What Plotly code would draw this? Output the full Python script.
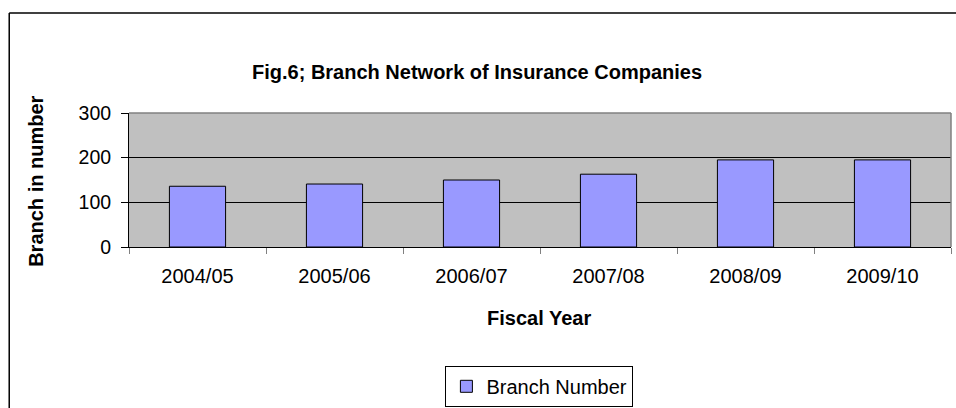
import plotly.graph_objects as go

years = ["2004/05", "2005/06", "2006/07", "2007/08", "2008/09", "2009/10"]
branches = [136, 141, 150, 163, 195, 195]
y_ticks = [0, 100, 200, 300]

W, H = 956, 408
L, R, T, B = 128.5, 5.3, 112.7, 161.3
pw = W - L - R
ph = H - T - B

def px(x):
    return (x - L) / pw

def py(y):
    return (H - B - y) / ph

FONT = "Arial, Liberation Sans, sans-serif"

fig = go.Figure()
fig.add_trace(go.Bar(
    x=years, y=branches, name="Branch Number",
    marker=dict(color="#9999FF", line=dict(color="#000000", width=1)),
    width=0.41,
))

fig.update_layout(
    width=W, height=H,
    margin=dict(l=L, r=R, t=T, b=B, pad=0, autoexpand=False),
    paper_bgcolor="white",
    plot_bgcolor="#C0C0C0",
    font=dict(family=FONT, size=20, color="black"),
    showlegend=True,
    legend=dict(
        x=px(539), y=py(365.5), xanchor="center", yanchor="top",
        bordercolor="#000000", borderwidth=1,
        font=dict(size=20), bgcolor="white",
        itemwidth=30,
    ),
)
fig.update_xaxes(
    type="category", showline=True, linecolor="black", linewidth=1,
    ticks="outside", ticklen=6, tickcolor="#808080", tickson="boundaries",
    tickfont=dict(size=20), showgrid=False, zeroline=False,
    ticklabelstandoff=11,
)
fig.update_yaxes(
    range=[0, 300], tickvals=y_ticks, showline=True, linecolor="black", linewidth=1,
    ticks="outside", ticklen=7, tickcolor="black",
    showgrid=True, gridcolor="black", gridwidth=1,
    tickfont=dict(size=19.5), zeroline=False,
    ticklabelstandoff=6,
)

shapes = [
    dict(type="line", xref="paper", yref="paper", x0=px(8.7), x1=px(8.7), y0=py(420), y1=py(12.7),
         line=dict(color="black", width=1.5)),
    dict(type="line", xref="paper", yref="paper", x0=px(8.7), x1=px(970), y0=py(12.7), y1=py(12.7),
         line=dict(color="black", width=1.5)),
    dict(type="line", xref="paper", yref="paper", x0=0, x1=1, y0=1, y1=1,
         line=dict(color="#808080", width=1.5)),
    dict(type="line", xref="paper", yref="paper", x0=1, x1=1, y0=0, y1=1,
         line=dict(color="#808080", width=1.5)),
]
fig.update_layout(shapes=shapes)

annotations = [
    dict(text="<b>Fig.6; Branch Network of Insurance Companies</b>", xref="paper", yref="paper",
         x=px(477), y=py(72), xanchor="center", yanchor="middle", showarrow=False,
         font=dict(size=20, family=FONT)),
    dict(text="<b>Branch in number</b>", xref="paper", yref="paper",
         x=px(36), y=py(181), xanchor="center", yanchor="middle", showarrow=False,
         textangle=-90, font=dict(size=20, family=FONT)),
    dict(text="<b>Fiscal Year</b>", xref="paper", yref="paper",
         x=px(539), y=py(318), xanchor="center", yanchor="middle", showarrow=False,
         font=dict(size=20, family=FONT)),
]
fig.update_layout(annotations=annotations)

fig.write_html(
    "out.html",
    config={"displayModeBar": False},
    post_script="document.body.style.margin='0';document.body.style.overflow='hidden';",
)
